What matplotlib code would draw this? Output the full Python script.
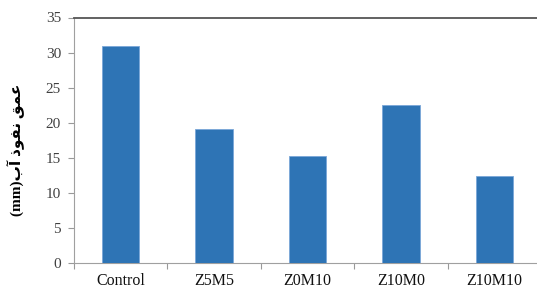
import matplotlib
matplotlib.use("Agg")
import matplotlib.pyplot as plt
import numpy as np

categories = ["Control", "Z5M5", "Z0M10", "Z10M0", "Z10M10"]
values = [31.0, 19.1, 15.3, 22.5, 12.5]
yticks = [0, 5, 10, 15, 20, 25, 30, 35]
# "عمق نفوذ آب(mm)" in visual order using Arabic presentation forms
ylabel = "(mm)\uFE8F\uFE81 \uFEAB\uFEEE\uFED4\uFEE7 \uFED6\uFEE4\uFECB"

plt.rcParams['font.family'] = ['Liberation Serif', 'DejaVu Sans']

fig = plt.figure(figsize=(5.37, 2.88), dpi=100)
ax = fig.add_axes([74/537, 1-263.3/288, 467/537, (263.3-17.5)/288])

x = np.arange(len(categories))
ax.bar(x, values, width=0.4, color='#2e74b5', edgecolor='#7aa6d8', linewidth=0.6, zorder=3)

ax.set_xlim(-0.5, len(categories)-0.5)
ax.set_ylim(0, 35)
ax.set_yticks(yticks)
ax.set_yticklabels([str(v) for v in yticks], fontsize=11)
ax.set_xticks(x)
ax.set_xticklabels(categories, fontsize=11.5)
ax.tick_params(axis='x', length=0, pad=7)
ax.set_xticks(np.arange(-0.5, len(categories), 1.0), minor=True)
ax.tick_params(axis='x', which='minor', length=4, color='#999999', width=0.8)
ax.tick_params(axis='y', length=4.3, color='#999999', width=0.8, pad=5, labelcolor='#404040')
ax.tick_params(axis='x', labelcolor='#111111')

for s in ['left', 'bottom']:
    ax.spines[s].set_color('#a0a0a0')
    ax.spines[s].set_linewidth(0.8)
ax.spines['right'].set_visible(False)
ax.spines['top'].set_color('#555555')
ax.spines['top'].set_linewidth(1.3)

ax.set_ylabel(ylabel, fontsize=11, fontweight='bold', family=['Liberation Serif', 'DejaVu Sans'])
ax.yaxis.set_label_coords((25-74)/467, 0.46)

fig.savefig("out.png", dpi=100)
